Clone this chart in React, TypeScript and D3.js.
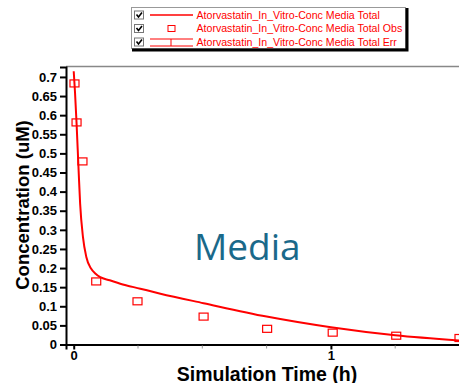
import * as d3 from "d3";
import { useEffect, useRef } from "react";

// simulated curve (h, uM)
const simTime = [0, 0.005, 0.011, 0.019, 0.025, 0.036, 0.049, 0.068, 0.085, 0.103, 0.14, 0.181, 0.259, 0.337, 0.505, 0.75, 1.0, 1.25, 1.5];
const simConc = [0.715, 0.66, 0.58, 0.456, 0.368, 0.281, 0.229, 0.198, 0.185, 0.176, 0.168, 0.159, 0.146, 0.133, 0.108, 0.073, 0.045, 0.024, 0.0105];

// observed points
const obsTime = [0.003, 0.011, 0.034, 0.0875, 0.248, 0.505, 0.752, 1.007, 1.254, 1.5];
const obsConc = [0.683, 0.581, 0.479, 0.165, 0.113, 0.073, 0.041, 0.031, 0.023, 0.017];

const yTicks = [0, 0.05, 0.1, 0.15, 0.2, 0.25, 0.3, 0.35, 0.4, 0.45, 0.5, 0.55, 0.6, 0.65, 0.7];
const xMajorTicks = [0, 1];
const xMinorTicks = [0.25, 0.5, 0.75, 1.25];

const legendLabels = [
  "Atorvastatin_In_Vitro-Conc Media Total",
  "Atorvastatin_In_Vitro-Conc Media Total Obs",
  "Atorvastatin_In_Vitro-Conc Media Total Err",
];

const App = () => {
  const ref = useRef<SVGSVGElement | null>(null);

  useEffect(() => {
    const width = 459;
    const height = 383;
    const svg = d3.select(ref.current);
    svg.selectAll("*").remove();
    svg.attr("width", width).attr("height", height);

    const font = "'Liberation Sans', Arial, sans-serif";
    const red = "#ff0000";

    const x = d3.scaleLinear().domain([-0.03, 1.5]).range([66, 459.5]);
    const y = d3.scaleLinear().domain([0, 0.726]).range([344.5, 67]);

    svg.append("rect").attr("width", width).attr("height", height).attr("fill", "#fff");

    // top frame
    svg.append("line")
      .attr("x1", 66).attr("x2", width).attr("y1", 66.5).attr("y2", 66.5)
      .attr("stroke", "#888").attr("stroke-width", 1.5);

    // y axis
    const yAxis = d3.axisLeft(y)
      .tickValues(yTicks)
      .tickSize(6)
      .tickPadding(3)
      .tickFormat((d) => String(d));
    const gy = svg.append("g").attr("transform", "translate(66,0)").call(yAxis);
    gy.select(".domain").attr("stroke", "#000").attr("stroke-width", 2);
    gy.selectAll(".tick line").attr("stroke", "#000").attr("stroke-width", 2);
    gy.selectAll(".tick text")
      .attr("font-family", font).attr("font-size", 13).attr("font-weight", "bold").attr("fill", "#000");

    // x axis
    const xAxis = d3.axisBottom(x)
      .tickValues(xMajorTicks)
      .tickSize(5)
      .tickPadding(1)
      .tickFormat((d) => String(d));
    const gx = svg.append("g").attr("transform", "translate(0,344.5)").call(xAxis);
    gx.select(".domain").attr("stroke", "#000").attr("stroke-width", 2);
    gx.selectAll(".tick line").attr("stroke", "#000").attr("stroke-width", 2);
    gx.selectAll(".tick text")
      .attr("font-family", font).attr("font-size", 13).attr("font-weight", "bold").attr("fill", "#000");

    svg.append("g").selectAll("line").data(xMinorTicks).join("line")
      .attr("x1", (d) => x(d)).attr("x2", (d) => x(d))
      .attr("y1", 345.5).attr("y2", 348.5)
      .attr("stroke", "#999").attr("stroke-width", 1);

    // axis titles
    svg.append("text")
      .attr("x", 267).attr("y", 380.5)
      .attr("text-anchor", "middle")
      .attr("font-family", font).attr("font-size", 19.5).attr("font-weight", "bold")
      .text("Simulation Time (h)");

    svg.append("text")
      .attr("transform", "translate(29,205) rotate(-90)")
      .attr("text-anchor", "middle")
      .attr("font-family", font).attr("font-size", 18.5).attr("font-weight", "bold")
      .text("Concentration (uM)");

    // Media label
    svg.append("text")
      .attr("x", 194).attr("y", 259.5)
      .attr("font-family", "'Open Sans', sans-serif").attr("font-size", 37)
      .attr("fill", "#1a698a")
      .text("Media");

    // simulated line
    const simData = simTime.map((t, i) => [t, simConc[i]] as [number, number]);
    const line = d3.line<[number, number]>()
      .x((d) => x(d[0]))
      .y((d) => y(d[1]))
      .curve(d3.curveMonotoneX);
    svg.append("path")
      .attr("d", line(simData) as string)
      .attr("fill", "none").attr("stroke", red).attr("stroke-width", 2);

    // observed squares
    svg.append("g").selectAll("rect").data(obsTime.map((t, i) => [t, obsConc[i]])).join("rect")
      .attr("x", (d) => x(d[0]) - 4.5).attr("y", (d) => y(d[1]) - 3.5)
      .attr("width", 9).attr("height", 7)
      .attr("fill", "none").attr("stroke", red).attr("stroke-width", 1.2);

    // legend box
    const lg = svg.append("g");
    lg.append("rect")
      .attr("x", 131.5).attr("y", 7.5).attr("width", 274).attr("height", 41)
      .attr("fill", "#fff").attr("stroke", "#999").attr("stroke-width", 1);
    lg.append("path")
      .attr("d", "M132,50 H407 V8")
      .attr("fill", "none").attr("stroke", "#000").attr("stroke-width", 3);

    const rowY = [15, 28.5, 42];
    legendLabels.forEach((label, i) => {
      const cy = rowY[i];
      lg.append("rect")
        .attr("x", 134.5).attr("y", cy - 4).attr("width", 9).attr("height", 8)
        .attr("fill", "#fff").attr("stroke", "#777").attr("stroke-width", 1);
      lg.append("path")
        .attr("d", `M136.5,${cy - 0.5} L138.5,${cy + 2} L142,${cy - 2.5}`)
        .attr("fill", "none").attr("stroke", "#000").attr("stroke-width", 1.6);
      if (i === 0) {
        lg.append("line").attr("x1", 150).attr("x2", 193).attr("y1", cy).attr("y2", cy)
          .attr("stroke", red).attr("stroke-width", 1.5);
      } else if (i === 1) {
        lg.append("rect").attr("x", 168).attr("y", cy - 3).attr("width", 7).attr("height", 6)
          .attr("fill", "none").attr("stroke", red).attr("stroke-width", 1);
      } else {
        lg.append("path")
          .attr("d", `M150,${cy - 3} H193 M150,${cy + 4} H193 M171,${cy - 3} V${cy + 4}`)
          .attr("fill", "none").attr("stroke", red).attr("stroke-width", 1);
      }
      lg.append("text")
        .attr("x", 196.5).attr("y", cy + 3.8)
        .attr("font-family", font).attr("font-size", 10.6)
        .attr("fill", red)
        .text(label);
    });
  }, []);

  return (
    <svg ref={ref} style={{ position: "absolute", left: 0, top: 0, display: "block" }} />
  );
};

export default App;
